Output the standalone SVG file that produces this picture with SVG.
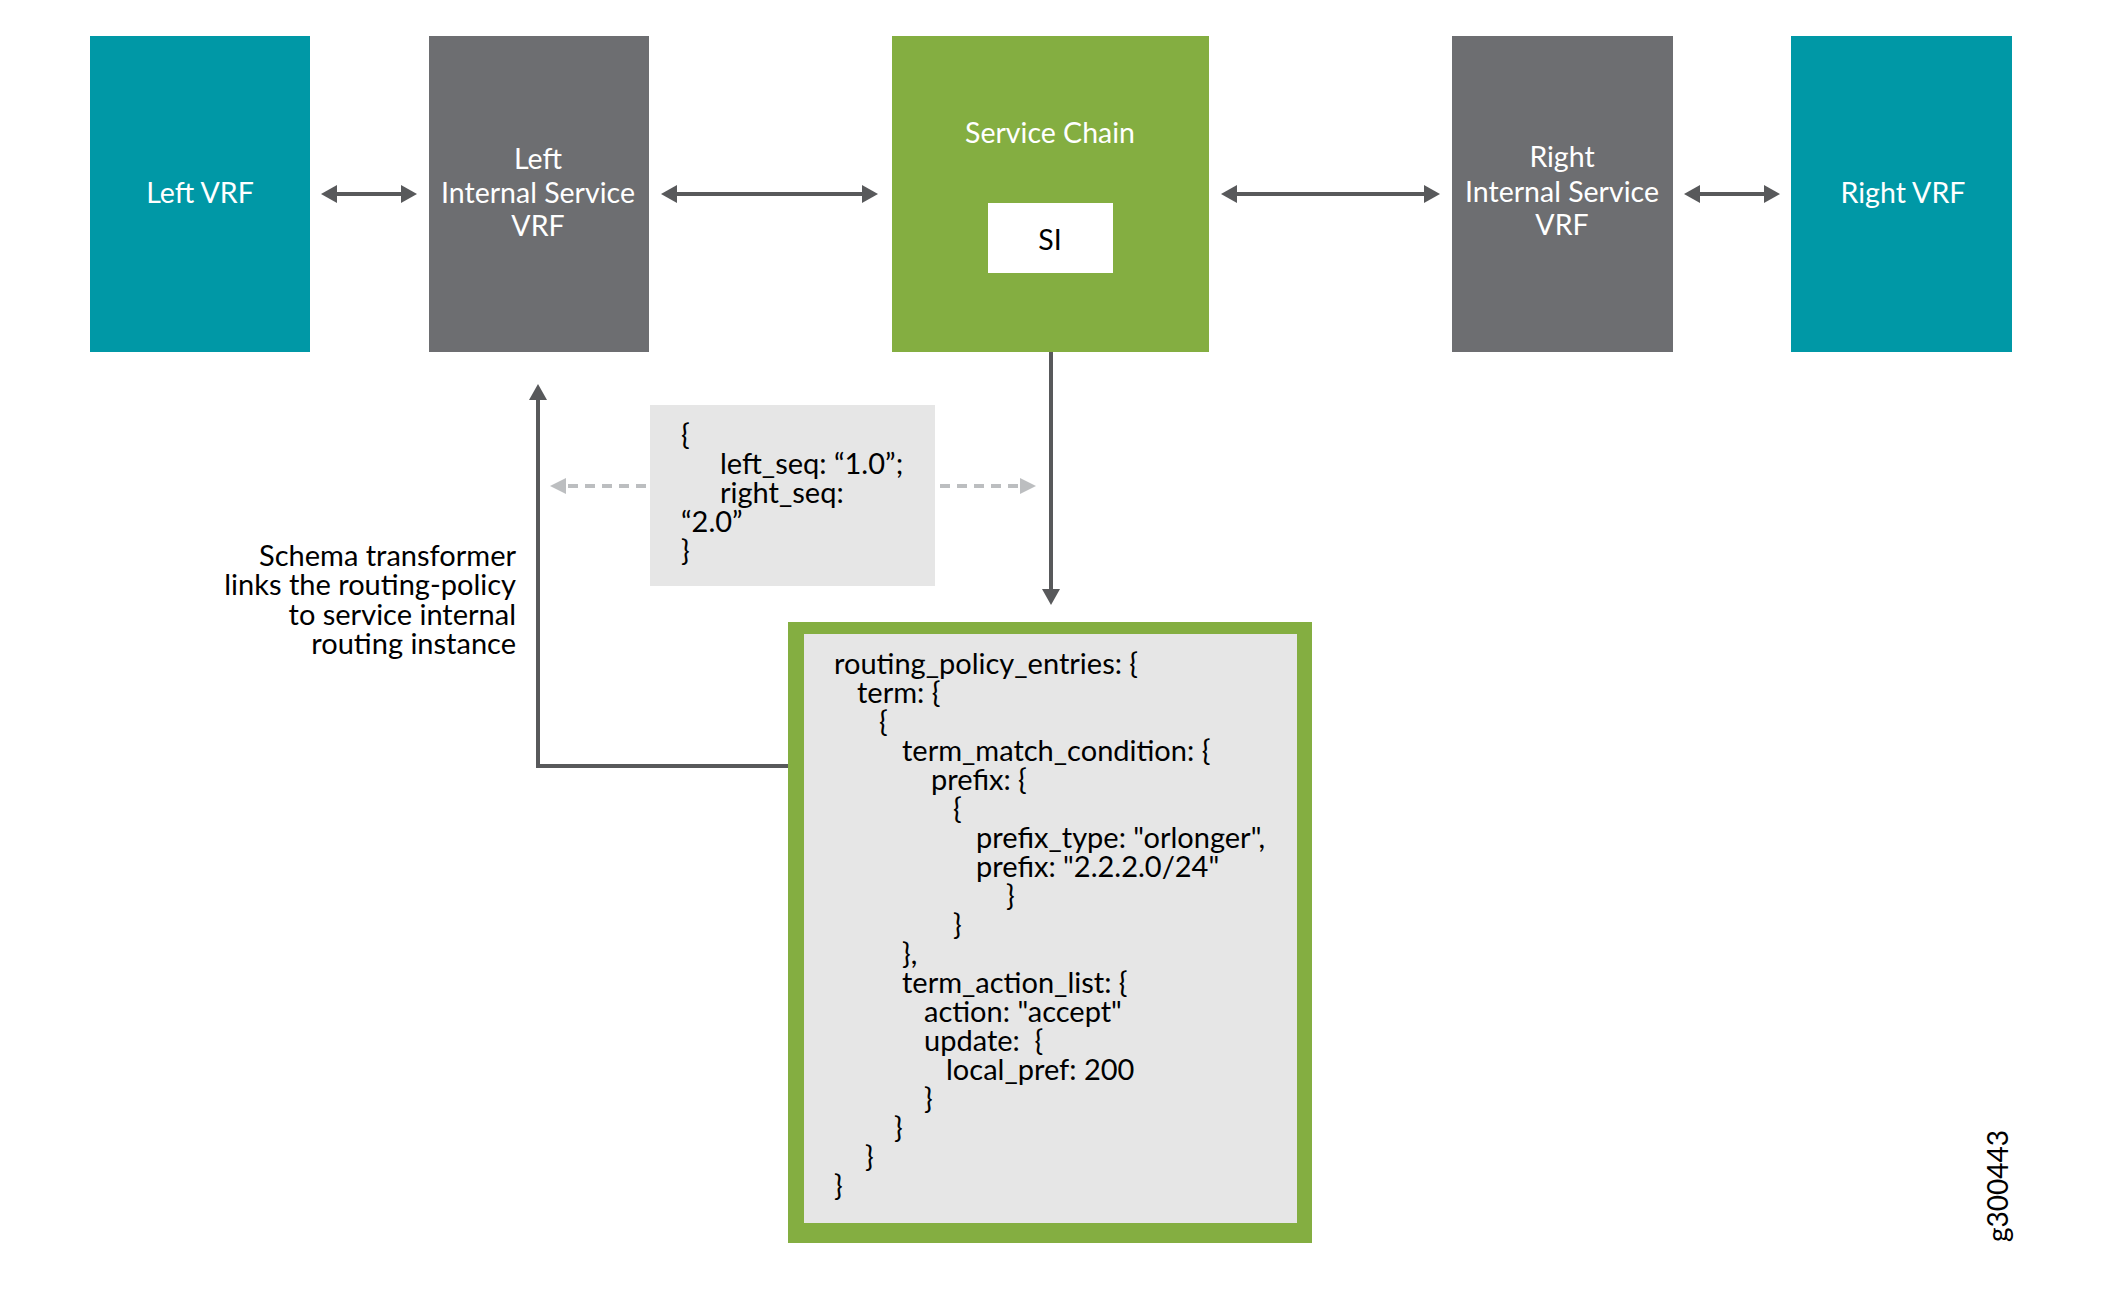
<svg xmlns="http://www.w3.org/2000/svg" width="2101" height="1295" viewBox="0 0 2101 1295">
<defs>
<style>
.lbl{font-family:Lato,"Liberation Sans",sans-serif;font-size:28.5px;fill:#ffffff;text-anchor:middle}
.code{font-family:Lato,"Liberation Sans",sans-serif;font-size:29px;fill:#000000}
.note{font-family:Lato,"Liberation Sans",sans-serif;font-size:29px;fill:#000000;text-anchor:end}
.teal{fill:#0098A6}
.grey{fill:#6D6E71}
.green{fill:#84AE41}
.conn{fill:none;stroke:#58595B;stroke-width:4}
.dash{fill:none;stroke:#BCBEC0;stroke-width:4;stroke-dasharray:10 7}
</style>
<marker id="ah" markerUnits="userSpaceOnUse" markerWidth="18" markerHeight="20" refX="1" refY="9" orient="auto-start-reverse">
<path d="M0,0 L16,9 L0,18 z" fill="#58595B"/>
</marker>
<marker id="ahl" markerUnits="userSpaceOnUse" markerWidth="18" markerHeight="18" refX="1" refY="8" orient="auto-start-reverse">
<path d="M0,0 L16,8 L0,16 z" fill="#BCBEC0"/>
</marker>
</defs>
<rect width="2101" height="1295" fill="#ffffff"/>

<g id="connectors">
<line class="conn" x1="336" y1="194" x2="402" y2="194" marker-start="url(#ah)" marker-end="url(#ah)"/>
<line class="conn" x1="676" y1="194" x2="863" y2="194" marker-start="url(#ah)" marker-end="url(#ah)"/>
<line class="conn" x1="1236" y1="194" x2="1425" y2="194" marker-start="url(#ah)" marker-end="url(#ah)"/>
<line class="conn" x1="1699" y1="194" x2="1765" y2="194" marker-start="url(#ah)" marker-end="url(#ah)"/>
<line class="conn" x1="1051" y1="352" x2="1051" y2="590" marker-end="url(#ah)"/>
<path class="conn" d="M788,766 H538 V399" marker-end="url(#ah)"/>
<line class="dash" x1="646" y1="486" x2="565" y2="486" marker-end="url(#ahl)"/>
<line class="dash" x1="940" y1="486" x2="1021" y2="486" marker-end="url(#ahl)"/>
</g>

<g id="left-vrf">
<rect class="teal" x="90" y="36" width="220" height="316"/>
<text class="lbl" x="200" y="203">Left VRF</text>
</g>

<g id="left-internal-service-vrf">
<rect class="grey" x="429" y="36" width="220" height="316"/>
<text class="lbl" x="538" y="169">Left</text>
<text class="lbl" x="538" y="203">Internal Service</text>
<text class="lbl" x="538" y="236">VRF</text>
</g>

<g id="service-chain">
<rect class="green" x="892" y="36" width="317" height="316"/>
<text class="lbl" x="1050" y="143">Service Chain</text>
<g id="si">
<rect x="988" y="203" width="125" height="70" fill="#ffffff"/>
<text class="lbl" x="1050" y="250" style="fill:#000000">SI</text>
</g>
</g>

<g id="right-internal-service-vrf">
<rect class="grey" x="1452" y="36" width="221" height="316"/>
<text class="lbl" x="1562" y="167">Right</text>
<text class="lbl" x="1562" y="202">Internal Service</text>
<text class="lbl" x="1562" y="235">VRF</text>
</g>

<g id="right-vrf">
<rect class="teal" x="1791" y="36" width="221" height="316"/>
<text class="lbl" x="1903" y="203">Right VRF</text>
</g>

<g id="seq-box">
<rect x="650" y="405" width="285" height="181" fill="#E6E6E6"/>
<text class="code" x="681" y="445">{</text>
<text class="code" x="720" y="474">left_seq: “1.0”;</text>
<text class="code" x="720" y="503">right_seq:</text>
<text class="code" x="681" y="532">“2.0”</text>
<text class="code" x="681" y="561">}</text>
</g>

<g id="schema-note">
<text class="note" x="516" y="566">Schema transformer</text>
<text class="note" x="516" y="595">links the routing-policy</text>
<text class="note" x="516" y="625">to service internal</text>
<text class="note" x="516" y="654">routing instance</text>
</g>

<g id="routing-policy">
<rect class="green" x="788" y="622" width="524" height="621"/>
<rect x="804" y="634" width="493" height="589" fill="#E6E6E6"/>
<text class="code" x="834" y="674">routing_policy_entries: {</text>
<text class="code" x="857" y="703">term: {</text>
<text class="code" x="879" y="732">{</text>
<text class="code" x="902" y="761">term_match_condition: {</text>
<text class="code" x="931" y="790">prefix: {</text>
<text class="code" x="953" y="819">{</text>
<text class="code" x="976" y="848">prefix_type: "orlonger",</text>
<text class="code" x="976" y="877">prefix: "2.2.2.0/24"</text>
<text class="code" x="1006" y="906">}</text>
<text class="code" x="953" y="935">}</text>
<text class="code" x="902" y="964">},</text>
<text class="code" x="902" y="993">term_action_list: {</text>
<text class="code" x="924" y="1022">action: "accept"</text>
<text class="code" x="924" y="1051">update:&#160; {</text>
<text class="code" x="946" y="1080">local_pref: 200</text>
<text class="code" x="924" y="1109">}</text>
<text class="code" x="894" y="1138">}</text>
<text class="code" x="865" y="1167">}</text>
<text class="code" x="834" y="1196">}</text>
</g>

<text transform="translate(2008,1242) rotate(-90)" font-family="Lato,'Liberation Sans',sans-serif" font-size="28" fill="#000000">g300443</text>
</svg>
